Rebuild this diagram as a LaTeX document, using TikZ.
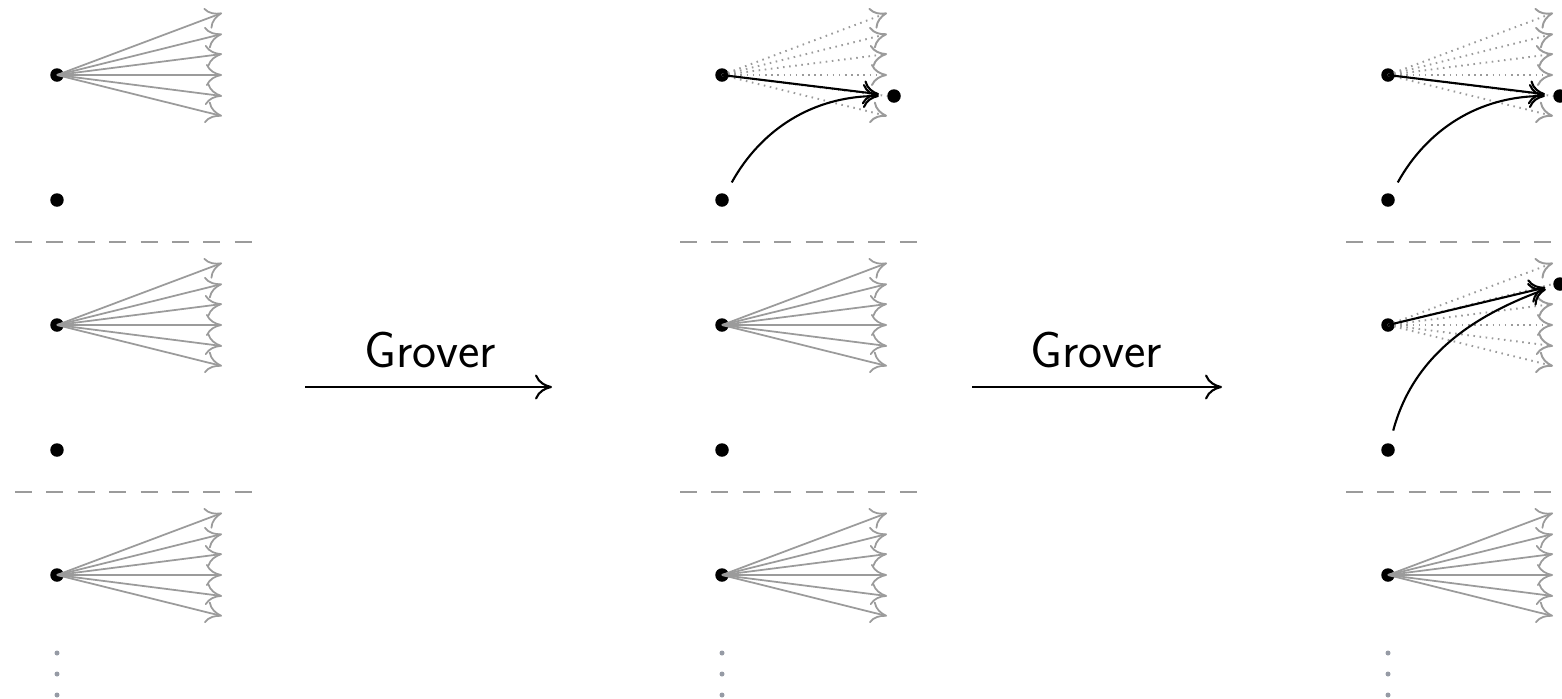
\documentclass[tikz,border=0pt]{standalone}
\usepackage{fontspec}
\usetikzlibrary{arrows.meta}
\definecolor{fan}{RGB}{155,155,155}
\definecolor{vd}{RGB}{150,155,165}
\tikzset{
  dotnode/.style={circle,fill=black,inner sep=0pt,minimum size=0.27cm},
  vdotnode/.style={circle,fill=vd,inner sep=0pt,minimum size=0.1cm},
  tipfan/.style={-{Computer Modern Rightarrow[length=0.32cm,width=0.44cm]}},
  fanline/.style={draw=fan,line width=1pt,tipfan},
  fandotted/.style={draw=fan,line width=1.1pt,dash pattern=on 0.9pt off 2.6pt},
  blackarr/.style={draw=black,line width=1.2pt,-{Computer Modern Rightarrow[length=0.32cm,width=0.48cm]}},
  sepline/.style={draw=fan,line width=1.3pt,dash pattern=on 0.34cm off 0.288cm},
  groverarr/.style={draw=black,line width=1.2pt,-{Computer Modern Rightarrow[length=0.34cm,width=0.5cm]}},
  grovertext/.style={font=\fontsize{29}{34}\selectfont\sffamily,inner sep=0pt,anchor=base},
}
\begin{document}
\begin{tikzpicture}[x=0.02cm,y=-0.02cm]
\useasboundingbox (0,0) rectangle (1562,698);
\clip (0,0) rectangle (1562,698);

% ---------- dots for every panel ----------
\foreach \p/\x in {1/57,2/722,3/1388}{
  \foreach \r/\y in {1/75,2/325,3/575}{
    \node[dotnode] (s-\p-\r) at (\x,\y) {};
  }
  \node[dotnode] (b-\p-1) at (\x,200) {};
  \node[dotnode] (b-\p-2) at (\x,450) {};
  \node[vdotnode] (v-\p-1) at (\x,653) {};
  \node[vdotnode] (v-\p-2) at (\x,674) {};
  \node[vdotnode] (v-\p-3) at (\x,695) {};
  % separators
  \coordinate (la-\p) at (\x-42,242);
  \coordinate (lb-\p) at (\x+196,242);
  \coordinate (lc-\p) at (\x-42,492);
  \coordinate (ld-\p) at (\x+196,492);
  \draw[sepline] (la-\p) -- (lb-\p);
  \draw[sepline] (lc-\p) -- (ld-\p);
}

% ---------- plain fans ----------
\foreach \p/\r in {1/1,1/2,1/3,2/2,2/3,3/3}{
  \foreach \d [count=\i] in {-62,-41,-21,0,21,41}{
    \coordinate (e-\p-\r-\i) at ([shift={(165,\d)}]s-\p-\r.center);
    \draw[fanline] (s-\p-\r.center) -- (e-\p-\r-\i);
  }
}

% ---------- Grover-amplified fans ----------
\foreach \p/\r/\c/\cd in {2/1/5/21,3/1/5/21,3/2/2/-41}{
  \foreach \d [count=\i] in {-62,-41,-21,0,21,41}{
    \coordinate (e-\p-\r-\i) at ([shift={(165,\d)}]s-\p-\r.center);
    \ifnum\i=\c
      \draw[fandotted] (s-\p-\r.center) -- (e-\p-\r-\i);
    \else
      \draw[fandotted,tipfan] (s-\p-\r.center) -- (e-\p-\r-\i);
    \fi
  }
  \node[dotnode] (t-\p-\r) at ([shift={(172,\cd)}]s-\p-\r.center) {};
  \draw[blackarr,shorten >=0.16cm] (s-\p-\r.center) -- (t-\p-\r);
}
\draw[blackarr,shorten <=0.26cm,shorten >=0.16cm] (b-2-1) to[out=61,in=180] (t-2-1);
\draw[blackarr,shorten <=0.26cm,shorten >=0.16cm] (b-3-1) to[out=61,in=180] (t-3-1);
\draw[blackarr,shorten <=0.26cm,shorten >=0.16cm] (b-3-2) to[out=75,in=200] (t-3-2);

% ---------- Grover arrows ----------
\coordinate (ga1) at (305,387);
\coordinate (gb1) at (552,387);
\coordinate (ga2) at (972,387);
\coordinate (gb2) at (1222,387);
\draw[groverarr] (ga1) -- (gb1);
\draw[groverarr] (ga2) -- (gb2);
\node[grovertext] (g1) at (430,367) {Grover};
\node[grovertext] (g2) at (1096,367) {Grover};
\end{tikzpicture}
\end{document}
